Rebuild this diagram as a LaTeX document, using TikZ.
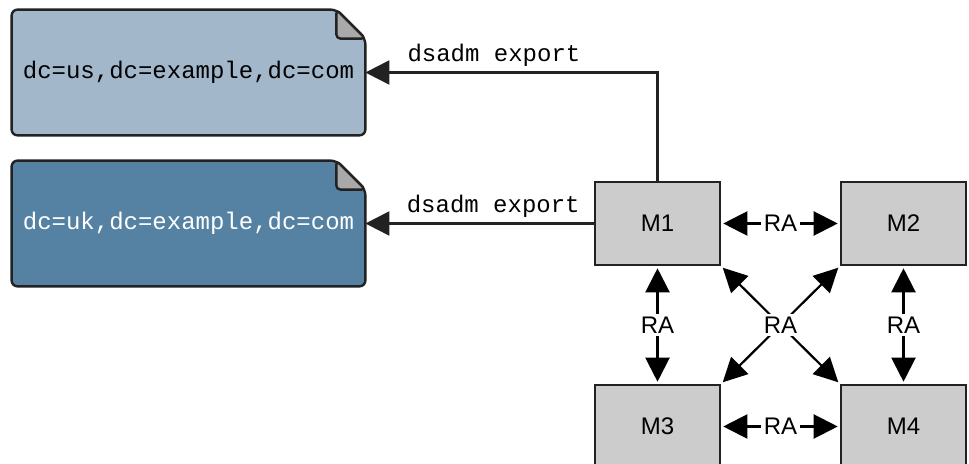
\documentclass[tikz,border=0pt]{standalone}
\usepackage{fontspec}
\newfontfamily\docfont{Liberation Mono}
\newfontfamily\boxfont{Liberation Sans}
\usetikzlibrary{calc,arrows.meta,backgrounds}
\definecolor{usblue}{HTML}{A3B7CB}
\definecolor{ukblue}{HTML}{5582A3}
\definecolor{foldgray}{HTML}{A9A9A9}
\definecolor{boxgray}{HTML}{CCCCCC}
\definecolor{edge}{HTML}{222222}
\def\dogear(#1)(#2){%
\begin{pgfonlayer}{background}
\draw[line width=1.2pt, draw=edge, fill=#2, rounded corners=3pt] ($(#1.north east)+(-29,0)$) -- (#1.north west) -- (#1.south west) -- (#1.south east) -- ($(#1.north east)+(0,29)$) -- cycle;
\draw[line width=1.2pt, draw=edge, fill=foldgray, rounded corners=2pt] ($(#1.north east)+(-29,0)$) -- ($(#1.north east)+(-29,29)$) -- ($(#1.north east)+(0,29)$) -- cycle;
\end{pgfonlayer}}

\begin{document}
\begin{tikzpicture}[x=0.5pt, y=-0.5pt,
	docnode/.style={minimum width=176.5pt, minimum height=62.5pt, inner sep=0pt, font=\docfont\fontsize{12}{14}\selectfont},
	master/.style={draw=edge, line width=1.3pt, fill=boxgray, minimum width=62.5pt, minimum height=41.5pt, inner sep=0pt, font=\boxfont\fontsize{12}{14}\selectfont},
	arr/.style={draw=edge, line width=1.1pt, -{Triangle[length=12pt, width=12pt]}},
	biarr/.style={draw=black, line width=1.1pt, {Triangle[length=12pt, width=12pt]}-{Triangle[length=12pt, width=12pt]}, shorten <=1pt, shorten >=1pt},
	ralabel/.style={fill=white, inner sep=1.2pt, font=\boxfont\fontsize{12}{14}\selectfont},
	cmdlabel/.style={above, inner sep=2.5pt, font=\docfont\fontsize{12}{14}\selectfont}]
			%%%%% START %%%%%
			\useasboundingbox (0,0) rectangle (969,464);
			\clip (0,0) rectangle (969,464);
			
			\node[docnode] (us) at (188.5,72.5) {dc=us,dc=example,dc=com};
			\node[docnode, text=white] (uk) at (188.5,223.5) {dc=uk,dc=example,dc=com};
			\dogear(us)(usblue)
			\dogear(uk)(ukblue)
			
			\node[master] (m1) at (657.5,223.5) {M1};
			\node[master] (m2) at (903.5,223.5) {M2};
			\node[master] (m3) at (657.5,426.5) {M3};
			\node[master] (m4) at (903.5,426.5) {M4};
			
			\draw[arr] (m1.north) |- (us.east) node[cmdlabel, pos=0.78] {dsadm export};
			\draw[arr] (m1.west) -- (uk.east) node[cmdlabel, pos=0.44] {dsadm export};
			
			\draw[biarr] (m1) -- node[ralabel] {RA} (m2);
			\draw[biarr] (m3) -- node[ralabel] {RA} (m4);
			\draw[biarr] (m1) -- node[ralabel] {RA} (m3);
			\draw[biarr] (m2) -- node[ralabel] {RA} (m4);
			
			\draw[biarr] (m2.south west) -- (m3.north east);
			\draw[biarr] (m1.south east) -- node[ralabel] {RA} (m4.north west);
			
			%%%%% END %%%%%
\end{tikzpicture}
\end{document}
